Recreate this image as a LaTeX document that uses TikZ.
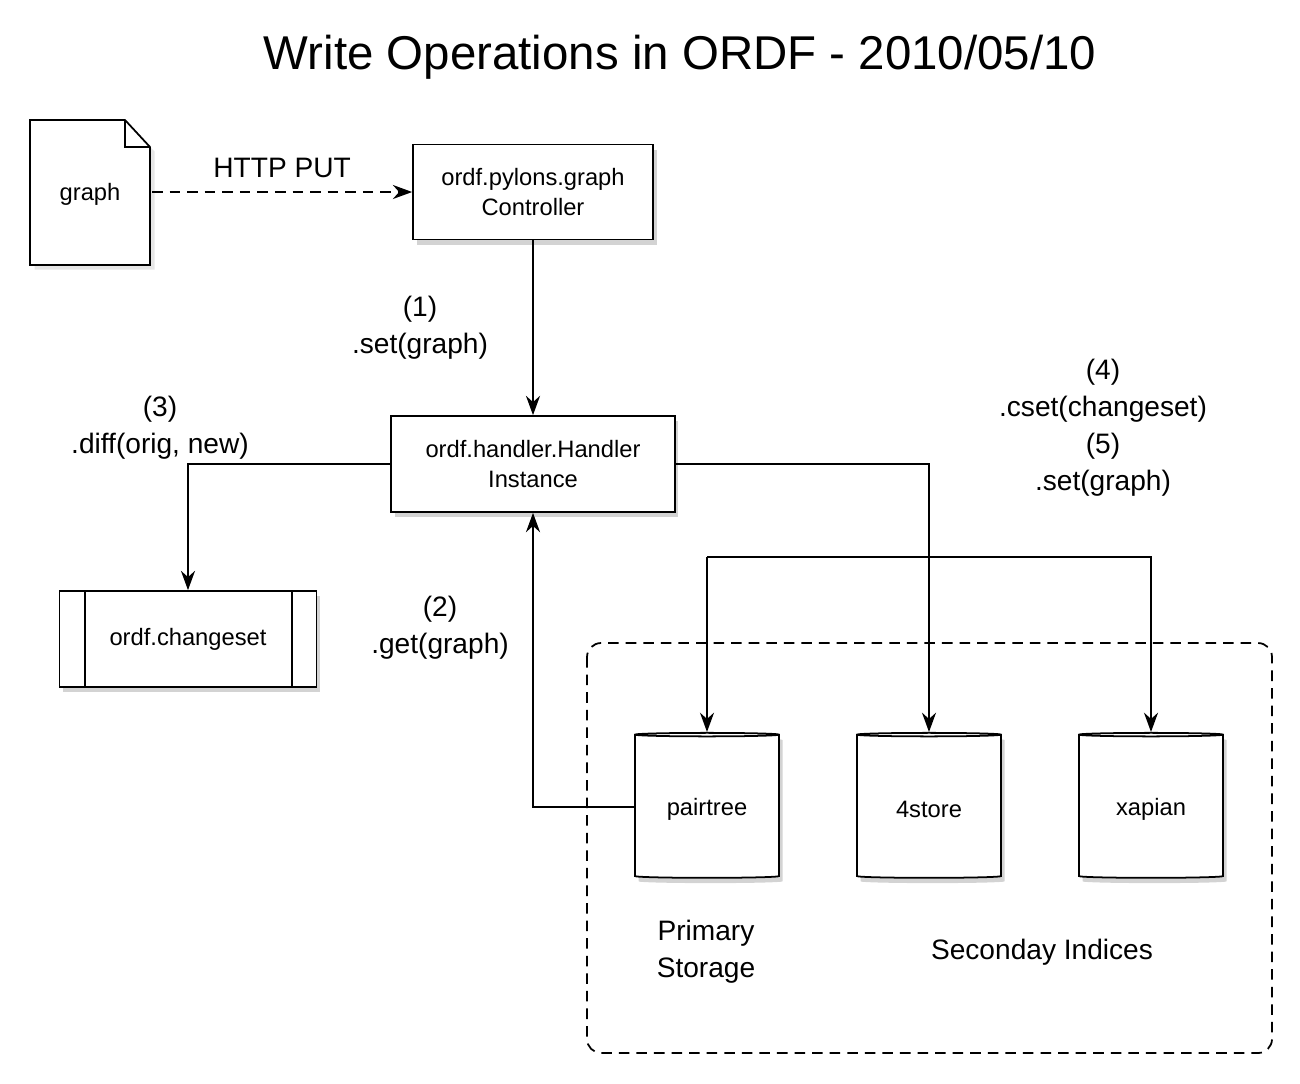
\documentclass[tikz,border=0pt]{standalone}
\usepackage{fontspec}
\setmainfont{Liberation Sans}
\usetikzlibrary{shapes.geometric,shadows,arrows.meta}

\tikzset{
  box/.style={draw,line width=1pt,fill=white,drop shadow={opacity=0.35,shadow xshift=2pt,shadow yshift=-3pt},
    align=center,font=\fontsize{13.5}{17}\selectfont},
  store/.style={cylinder,draw,line width=1pt,fill=white,shape border rotate=90,aspect=0.3,
    minimum width=2.88cm,minimum height=2.9cm,font=\fontsize{13.5}{17}\selectfont,
    text height=9pt,text depth=3pt,
    drop shadow={opacity=0.35,shadow xshift=2pt,shadow yshift=-3pt}},
  lbl/.style={align=center,font=\fontsize{16}{21}\selectfont},
  flow/.style={line width=1pt,-{Stealth[length=11pt,width=8pt]}},
  dashy/.style={dash pattern=on 6pt off 4pt}
}

\begin{document}
\begin{tikzpicture}[x=0.02cm,y=-0.02cm]
    \useasboundingbox (0,0) rectangle (1300,1083);

    % Titel
    \node (title) at (680,57) {\fontsize{27}{30}\selectfont Write Operations in ORDF - 2010/05/10};

    % Dokument
    \draw[line width=1pt,fill=white,drop shadow={opacity=0.2}] (30,120) -- (125,120) -- (150,147) -- (150,265) -- (30,265) -- cycle;
    \draw[line width=1pt] (125,120) -- (125,147) -- (150,147);
    \node[font=\fontsize{13.5}{16}\selectfont] (graph) at (90,194) {graph};
    \coordinate (graphR) at (152,192);

    % Knoten
    \node[box,minimum width=4.8cm,minimum height=1.9cm] (ctrl) at (533,192) {ordf.pylons.graph\\Controller};
    \node[box,minimum width=5.68cm,minimum height=1.92cm] (handler) at (533,464) {ordf.handler.Handler\\Instance};
    \node[box,minimum width=5.14cm,minimum height=1.92cm] (cset) at (188,639) {ordf.changeset};
    \draw[line width=1pt] (85,591) -- (85,687) (292,591) -- (292,687);

    % Speicher
    \draw[line width=1pt,dashy,rounded corners=8pt] (587,643) rectangle (1272,1053);
    \node[store] (pairtree) at (707,807) {};
    \node[store] (fourstore) at (929,807) {};
    \node[store] (xapian) at (1151,807) {};
    \node[font=\fontsize{13.5}{17}\selectfont] at (707,809) {pairtree};
    \node[font=\fontsize{13.5}{17}\selectfont] at (929,809) {4store};
    \node[font=\fontsize{13.5}{17}\selectfont] at (1151,809) {xapian};
    \node[lbl] (primary) at (706,952) {Primary\\Storage};
    \node[lbl] (secondary) at (1042,952) {Seconday Indices};

    % Pfeile
    \draw[flow,dashy] (graphR) -- node[lbl,above=4pt] {HTTP PUT} (ctrl.west);
    \draw[flow] (ctrl.south) -- (handler.north);
    \node[lbl] (l1) at (420,328) {(1)\\.set(graph)};
    \draw[flow] (handler.west) -| (cset.north);
    \node[lbl] (l3) at (160,428) {(3)\\.diff(orig, new)};
    \draw[flow] (handler.east) -| (fourstore.north);
    \coordinate (split) at (707,557);
    \draw[flow] (pairtree.north |- split) -- (pairtree.north);
    \draw[flow] (split) -| (xapian.north);
    \node[lbl] (l45) at (1103,428) {(4)\\.cset(changeset)\\(5)\\.set(graph)};
    \draw[flow] (pairtree.west) -| (handler.south);
    \node[lbl] (l2) at (440,628) {(2)\\.get(graph)};
\end{tikzpicture}
\end{document}
